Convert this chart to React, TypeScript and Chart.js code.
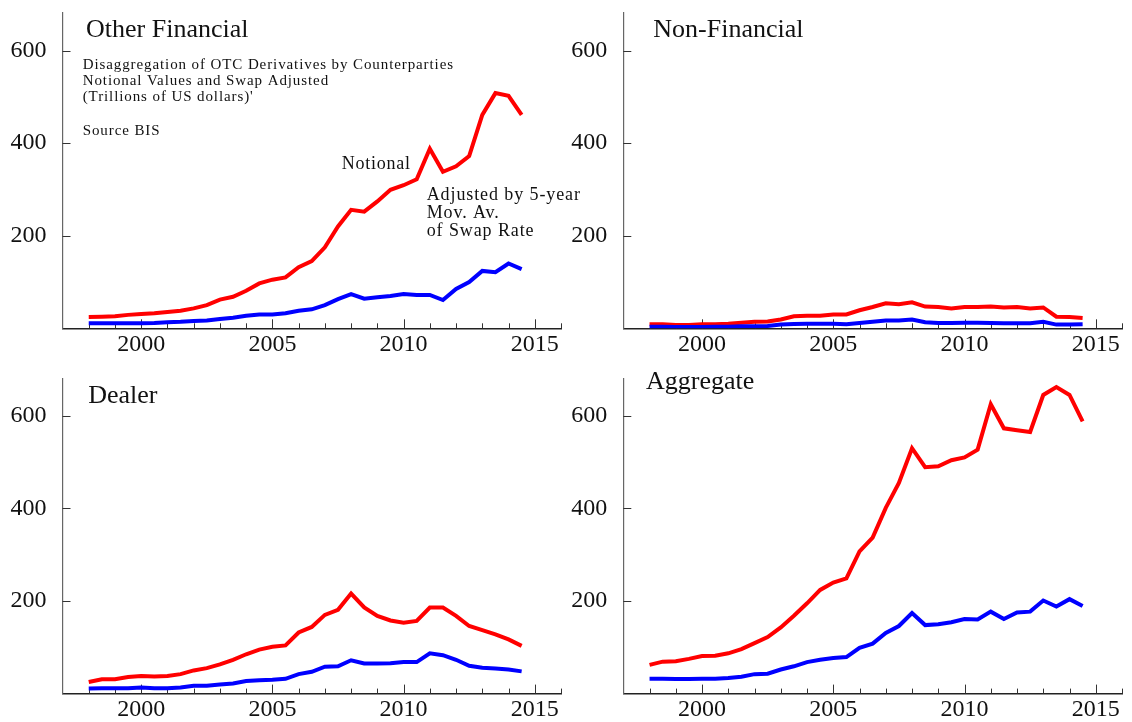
import React, { useEffect, useRef } from "react";
import { Chart, registerables } from "chart.js";

Chart.register(...registerables);

// ---------- data ----------
const periods = [
  1998, 1998.5, 1999, 1999.5, 2000, 2000.5, 2001, 2001.5, 2002, 2002.5,
  2003, 2003.5, 2004, 2004.5, 2005, 2005.5, 2006, 2006.5, 2007, 2007.5,
  2008, 2008.5, 2009, 2009.5, 2010, 2010.5, 2011, 2011.5, 2012, 2012.5,
  2013, 2013.5, 2014, 2014.5,
];

const otherFinNotional = [
  24.6, 25, 26, 29, 31, 32.5, 35, 38, 43, 50, 62, 68, 81, 97, 105, 110, 132, 145,
  175, 220, 256, 252, 274, 299, 309, 322, 388, 338, 350, 372, 461, 508, 502, 461,
];
const otherFinAdjusted = [
  11, 11, 11, 11, 11, 11.5, 13, 14, 16, 17, 20, 23, 27, 30, 30, 32.5, 38, 41,
  50, 63, 74, 64, 67, 70, 74, 72, 72, 61, 85, 100, 124, 121, 140, 128,
];

const nonFinNotional = [
  8.7, 9, 7, 7, 8.7, 9, 10, 12, 14, 14.5, 19, 26, 27, 27, 30, 30, 39, 46,
  54, 52, 56, 47, 46, 43, 46, 46, 47, 45, 46, 43, 45, 25, 24.5, 22.5,
];
const nonFinAdjusted = [
  3.6, 3.6, 3, 3, 3, 3.6, 3.6, 4.3, 4.3, 5, 8, 9.4, 10, 10, 10, 9, 11.5, 14,
  16.6, 17, 19, 13, 11.5, 11.5, 12, 12, 11.5, 11, 11, 11, 14, 8, 8, 8.7,
];

const dealerNotional = [
  25, 31, 31, 36, 38, 37, 38, 42, 50, 55, 63, 73, 85, 95, 101, 104, 132, 144,
  170, 181, 216, 186, 168, 158, 153, 157, 186, 186, 168, 146, 137, 128, 117, 103,
];
const dealerAdjusted = [
  11, 11.5, 11.5, 11.5, 13, 11.5, 11.5, 13, 17, 17, 19.5, 22, 27, 29, 30, 32, 42, 47,
  58, 59, 72, 65, 65, 65.5, 68, 68, 87, 83, 73, 60, 56, 54, 52, 48,
];

const aggregateNotional = [
  62, 69, 70, 75, 81, 82, 87, 96, 109, 122, 143, 168, 195, 224, 240, 249, 307, 337,
  401, 455, 530, 489, 491, 504, 510, 527, 625, 573, 569, 565, 645, 662, 645, 588,
];
const aggregateAdjusted = [
  32, 32, 31.5, 31.5, 32, 32, 33.5, 36.5, 42, 43, 52, 59, 68, 73, 77, 79, 99, 108,
  131, 146, 174, 148, 150, 154, 161, 160, 177, 161, 175, 177, 201, 188, 204, 189,
];

const xTickValues = [2000, 2005, 2010, 2015];
const xMinorTicks = [
  1998, 1999, 2000, 2001, 2002, 2003, 2004, 2005, 2006, 2007, 2008, 2009,
  2010, 2011, 2012, 2013, 2014, 2015, 2016,
];
const yTickValues = [200, 400, 600];

const panelTitles = ["Other Financial", "Non-Financial", "Dealer", "Aggregate"];
const noteLines = [
  "Disaggregation of OTC Derivatives by Counterparties",
  "Notional Values and Swap Adjusted",
  "(Trillions of US dollars)'",
  "Source BIS",
];
const notionalLabel = "Notional";
const adjustedLabel = ["Adjusted by 5-year", "Mov. Av.", "of Swap Rate"];

const X_MIN = 1997;
const X_MAX = 2016;
const Y_MIN = 0;
const Y_MAX = 681;

const SERIF = "'Liberation Serif', 'Times New Roman', serif";
const RED = "#ff0000";
const BLUE = "#0000ff";

type Note = { text: string; dx: number; dy: number; size: number; ls: number };

type PanelCfg = {
  left: number;
  top: number;
  w: number;
  h: number;
  z: number;
  yAxisW: number;
  xAxisH: number;
  padTop: number;
  padRight: number;
  notional: number[];
  adjusted: number[];
  notes: Note[];
};

const panels: PanelCfg[] = [
  {
    left: 0, top: 0, w: 640, h: 361, z: 2,
    yAxisW: 62.5, xAxisH: 32.7, padTop: 13, padRight: 79,
    notional: otherFinNotional, adjusted: otherFinAdjusted,
    notes: [
      { text: panelTitles[0], dx: 23.5, dy: 24, size: 26, ls: 0 },
      { text: noteLines[0], dx: 20.2, dy: 56.3, size: 15, ls: 0.9 },
      { text: noteLines[1], dx: 20.2, dy: 72.3, size: 15, ls: 0.9 },
      { text: noteLines[2], dx: 20.2, dy: 88.3, size: 15, ls: 0.9 },
      { text: noteLines[3], dx: 20.2, dy: 122, size: 15, ls: 0.9 },
      { text: notionalLabel, dx: 279.2, dy: 156.3, size: 18, ls: 0.75 },
      { text: adjustedLabel[0], dx: 364.2, dy: 186.5, size: 18, ls: 0.9 },
      { text: adjustedLabel[1], dx: 364.2, dy: 204.5, size: 18, ls: 0.9 },
      { text: adjustedLabel[2], dx: 364.2, dy: 222.5, size: 18, ls: 0.9 },
    ],
  },
  {
    left: 566, top: 0, w: 566, h: 361, z: 1,
    yAxisW: 57.3, xAxisH: 32.7, padTop: 13, padRight: 10,
    notional: nonFinNotional, adjusted: nonFinAdjusted,
    notes: [{ text: panelTitles[1], dx: 30, dy: 24, size: 26, ls: 0 }],
  },
  {
    left: 0, top: 361, w: 566, h: 361, z: 1,
    yAxisW: 62.5, xAxisH: 28.4, padTop: 17.3, padRight: 5,
    notional: dealerNotional, adjusted: dealerAdjusted,
    notes: [{ text: panelTitles[2], dx: 25.7, dy: 24.4, size: 26, ls: 0 }],
  },
  {
    left: 566, top: 361, w: 566, h: 361, z: 1,
    yAxisW: 57.3, xAxisH: 28.4, padTop: 17.3, padRight: 10,
    notional: aggregateNotional, adjusted: aggregateAdjusted,
    notes: [{ text: panelTitles[3], dx: 22.7, dy: 11, size: 26, ls: 0 }],
  },
];

const tickMarksPlugin = {
  id: "tickMarks",
  beforeDatasetsDraw(chart: any) {
    const { ctx, chartArea, scales } = chart;
    const xs = scales.x;
    const ys = scales.y;
    ctx.save();
    ctx.strokeStyle = "#333";
    ctx.lineWidth = 1;
    ctx.beginPath();
    xMinorTicks.forEach((yr) => {
      const px = Math.round(xs.getPixelForValue(yr)) + 0.5;
      const len = xTickValues.includes(yr) ? 9 : 5;
      ctx.moveTo(px, chartArea.bottom);
      ctx.lineTo(px, chartArea.bottom - len);
    });
    yTickValues.forEach((v) => {
      const py = Math.round(ys.getPixelForValue(v)) + 0.5;
      ctx.moveTo(chartArea.left, py);
      ctx.lineTo(chartArea.left + 8, py);
    });
    ctx.stroke();
    ctx.restore();
  },
};

function makeNotesPlugin(notes: Note[]) {
  return {
    id: "notes",
    afterDraw(chart: any) {
      const { ctx, chartArea } = chart;
      ctx.save();
      ctx.fillStyle = "#111";
      ctx.textAlign = "left";
      ctx.textBaseline = "alphabetic";
      notes.forEach((n) => {
        ctx.font = `${n.size}px ${SERIF}`;
        try {
          (ctx as any).letterSpacing = `${n.ls}px`;
        } catch (e) {}
        ctx.fillText(n.text, chartArea.left + n.dx, chartArea.top + n.dy);
      });
      ctx.restore();
    },
  };
}

function Panel({ cfg }: { cfg: PanelCfg }) {
  const ref = useRef<HTMLCanvasElement>(null);
  useEffect(() => {
    if (!ref.current) return;
    const toPoints = (vals: number[]) => periods.map((p, i) => ({ x: p, y: vals[i] }));
    const chart = new Chart(ref.current, {
      type: "line",
      data: {
        datasets: [
          {
            label: "Adjusted by 5-year Mov. Av. of Swap Rate",
            data: toPoints(cfg.adjusted),
            borderColor: BLUE,
            backgroundColor: BLUE,
            borderWidth: 4,
            pointRadius: 0,
            tension: 0,
            fill: false,
          },
          {
            label: "Notional",
            data: toPoints(cfg.notional),
            borderColor: RED,
            backgroundColor: RED,
            borderWidth: 4,
            pointRadius: 0,
            tension: 0,
            fill: false,
          },
        ],
      },
      options: {
        animation: false,
        responsive: false,
        maintainAspectRatio: false,
        events: [],
        layout: { padding: { top: cfg.padTop, right: cfg.padRight, left: 0, bottom: 0 } },
        plugins: { legend: { display: false }, tooltip: { enabled: false }, title: { display: false } },
        scales: {
          x: {
            type: "linear",
            min: X_MIN,
            max: X_MAX,
            grid: { display: false, drawTicks: false, tickLength: 0 },
            border: { display: true, color: "#222", width: 1.5 },
            afterBuildTicks: (scale: any) => {
              scale.ticks = xTickValues.map((v) => ({ value: v }));
            },
            afterFit: (scale: any) => {
              scale.height = cfg.xAxisH;
              scale.paddingLeft = 0;
              scale.paddingRight = 0;
              scale.paddingTop = 0;
              scale.paddingBottom = 0;
            },
            ticks: {
              padding: 2,
              maxRotation: 0,
              autoSkip: false,
              color: "#111",
              font: { family: SERIF, size: 24 },
              callback: (v: any) => String(v),
            },
          },
          y: {
            type: "linear",
            min: Y_MIN,
            max: Y_MAX,
            grid: { display: false, drawTicks: false, tickLength: 0 },
            border: { display: true, color: "#666", width: 1.2 },
            afterBuildTicks: (scale: any) => {
              scale.ticks = yTickValues.map((v) => ({ value: v }));
            },
            afterFit: (scale: any) => {
              scale.width = cfg.yAxisW;
              scale.paddingTop = 0;
              scale.paddingBottom = 0;
              scale.paddingLeft = 0;
              scale.paddingRight = 0;
            },
            ticks: {
              padding: 16,
              autoSkip: false,
              color: "#111",
              font: { family: SERIF, size: 24 },
              callback: (v: any) => String(v),
            },
          },
        },
      },
      plugins: [tickMarksPlugin, makeNotesPlugin(cfg.notes)],
    } as any);
    return () => chart.destroy();
  }, [cfg]);
  return (
    <canvas
      ref={ref}
      width={cfg.w}
      height={cfg.h}
      style={{
        position: "absolute",
        left: cfg.left,
        top: cfg.top,
        width: cfg.w,
        height: cfg.h,
        zIndex: cfg.z,
        display: "block",
      }}
    />
  );
}

export default function App() {
  return (
    <div
      style={{
        position: "absolute",
        left: 0,
        top: 0,
        width: 1132,
        height: 722,
        background: "#ffffff",
        overflow: "hidden",
      }}
    >
      {panels.map((p, i) => (
        <Panel key={i} cfg={p} />
      ))}
    </div>
  );
}
